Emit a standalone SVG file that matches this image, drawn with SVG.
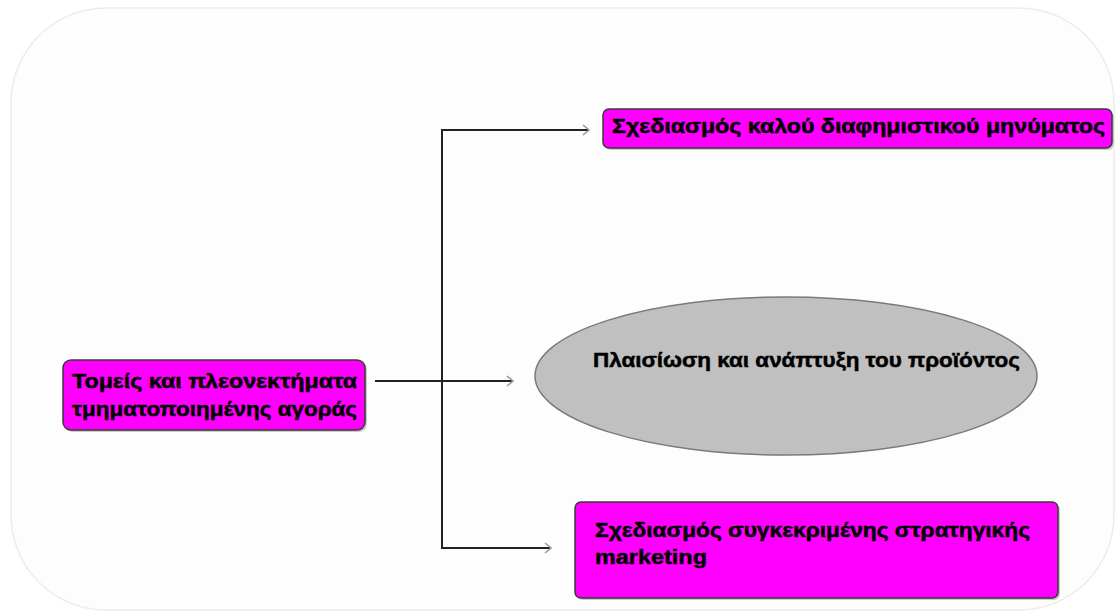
<svg xmlns="http://www.w3.org/2000/svg" width="1115" height="611" viewBox="0 0 1115 611">
  <style>
    .frame { fill: #fdfdfd; stroke: #ececec; stroke-width: 1.5; }
    .box { fill: #ff00ff; stroke: #3a3a3a; stroke-width: 1.5; }
    .shadow { fill: #9a9a9a; opacity: 0.5; }
    .oval { fill: #c0c0c0; stroke: #7a7a7a; stroke-width: 1.5; }
    .label { font-family: "Liberation Sans", Arial, sans-serif; font-weight: bold; font-size: 20px; fill: #000; stroke: #000; stroke-width: 0.5; }
    .wire { fill: none; stroke: #222; stroke-width: 2; }
  </style>
  <defs>
    <marker id="chev" markerWidth="12" markerHeight="12" refX="9" refY="6" orient="auto" markerUnits="userSpaceOnUse">
      <path d="M3,1 L9,6 L3,11" fill="none" stroke="#9a9a9a" stroke-width="1.6"/>
    </marker>
  </defs>

  <!-- background panel -->
  <rect class="frame" x="11" y="8" width="1103" height="602" rx="95" ry="95"/>

  <!-- connectors -->
  <g id="connectors">
    <line class="wire" x1="442" y1="130" x2="442" y2="548"/>
    <path class="wire" d="M441,130 H589" marker-end="url(#chev)"/>
    <path class="wire" d="M375,381 H513" marker-end="url(#chev)"/>
    <path class="wire" d="M441,548 H551" marker-end="url(#chev)"/>
  </g>

  <!-- source node -->
  <g id="node-segments">
    <rect class="shadow" x="65" y="362" width="302" height="70" rx="8"/>
    <rect class="box" x="63" y="360" width="302" height="70" rx="8"/>
    <text class="label" x="72" y="388" textLength="285" lengthAdjust="spacingAndGlyphs">Τομείς και πλεονεκτήματα</text>
    <text class="label" x="72" y="416" textLength="285" lengthAdjust="spacingAndGlyphs">τμηματοποιημένης αγοράς</text>
  </g>

  <!-- message design -->
  <g id="node-message">
    <rect class="shadow" x="605" y="111" width="509" height="39" rx="6"/>
    <rect class="box" x="603" y="109" width="509" height="39" rx="6"/>
    <text class="label" x="612" y="133" textLength="493" lengthAdjust="spacingAndGlyphs">Σχεδιασμός καλού διαφημιστικού μηνύματος</text>
  </g>

  <!-- product framing -->
  <g id="node-product">
    <ellipse class="oval" cx="786" cy="376" rx="251" ry="79"/>
    <text class="label" x="593" y="367" textLength="427" lengthAdjust="spacingAndGlyphs">Πλαισίωση και ανάπτυξη του προϊόντος</text>
  </g>

  <!-- marketing strategy -->
  <g id="node-strategy">
    <rect class="shadow" x="577" y="504" width="483" height="96" rx="6"/>
    <rect class="box" x="575" y="502" width="483" height="96" rx="6"/>
    <text class="label" x="595" y="537" textLength="435" lengthAdjust="spacingAndGlyphs">Σχεδιασμός συγκεκριμένης στρατηγικής</text>
    <text class="label" x="595" y="564" textLength="112" lengthAdjust="spacingAndGlyphs">marketing</text>
  </g>
</svg>
